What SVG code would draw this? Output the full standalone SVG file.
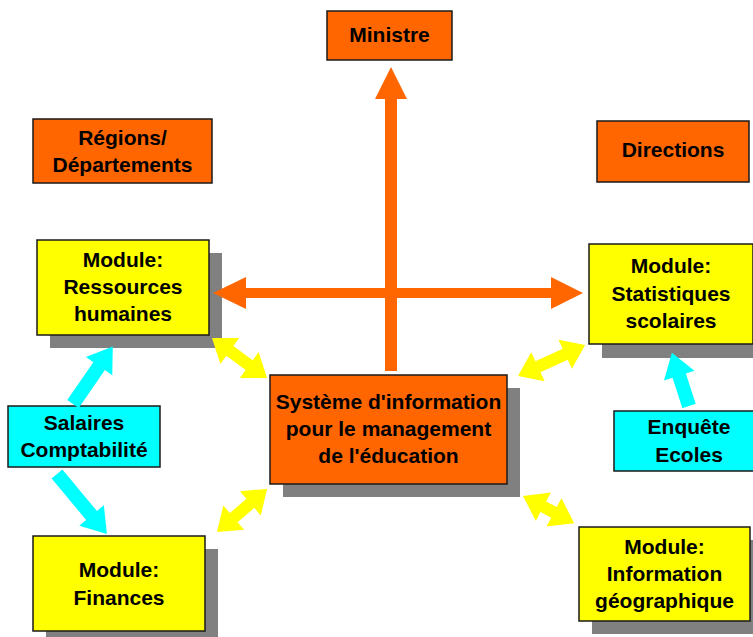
<svg xmlns="http://www.w3.org/2000/svg" width="753" height="637" viewBox="0 0 753 637">
<style>
.box{stroke:#1a1a1a;stroke-width:1.5}
.or{fill:#FF6600}
.ye{fill:#FFFF00}
.cy{fill:#00FFFF}
.sh{fill:#808080}
text{font-family:"Liberation Sans",Arial,sans-serif;font-weight:bold;font-size:21px;fill:#000;text-anchor:middle}
.oa{fill:#FF6600}
.ya{fill:#FFFF00}
.ca{fill:#00FFFF}
</style>
<rect width="753" height="637" fill="#fff"/>
<g id="ministre">
<rect class="box or" x="327" y="11" width="125" height="49"/>
<text x="389.5" y="42">Ministre</text>
</g>
<g id="regions">
<rect class="box or" x="33" y="119" width="179" height="64"/>
<text x="122.5" y="145">Régions/</text>
<text x="122.5" y="172">Départements</text>
</g>
<g id="directions">
<rect class="box or" x="597" y="121" width="152" height="61"/>
<text x="673" y="157">Directions</text>
</g>
<g id="ressources">
<rect class="sh" x="50" y="253" width="172" height="95"/>
<rect class="box ye" x="37" y="240" width="172" height="95"/>
<text x="123" y="267">Module:</text>
<text x="123" y="294">Ressources</text>
<text x="123" y="321">humaines</text>
</g>
<g id="statistiques">
<rect class="sh" x="602" y="257" width="164" height="101"/>
<rect class="box ye" x="589" y="244" width="164" height="100"/>
<text x="671" y="273">Module:</text>
<text x="671" y="301">Statistiques</text>
<text x="671" y="328">scolaires</text>
</g>
<g id="systeme">
<rect class="sh" x="283" y="388" width="237" height="109"/>
<rect class="box or" x="270" y="375" width="237" height="109"/>
<text x="388.5" y="409">Système d'information</text>
<text x="388.5" y="436">pour le management</text>
<text x="388.5" y="463">de l'éducation</text>
</g>
<g id="salaires">
<rect class="box cy" x="8" y="406" width="152" height="61"/>
<text x="84" y="430">Salaires</text>
<text x="84" y="457">Comptabilité</text>
</g>
<g id="enquete">
<rect class="box cy" x="614" y="411" width="150" height="60"/>
<text x="689" y="434">Enquête</text>
<text x="689" y="462">Ecoles</text>
</g>
<g id="finances">
<rect class="sh" x="46" y="549" width="172" height="95"/>
<rect class="box ye" x="33" y="536" width="172" height="95"/>
<text x="119" y="577">Module:</text>
<text x="119" y="605">Finances</text>
</g>
<g id="geographique">
<rect class="sh" x="592" y="540" width="171" height="94"/>
<rect class="box ye" x="579" y="527" width="171" height="94"/>
<text x="664.5" y="554">Module:</text>
<text x="664.5" y="581">Information</text>
<text x="664.5" y="608">géographique</text>
</g>
<g id="connectors">
<polygon class="oa" points="391,67 407,99 397,99 397,371 385,371 385,99 375,99"/>
<polygon class="oa" points="213,293 246,277 246,288 551,288 551,277 583,293 551,309 551,298 246,298 246,309"/>
<polygon class="ya" transform="translate(212,338) rotate(36)" points="0,0 22,-16 22,-6 46,-6 46,-16 68,0 46,16 46,6 22,6 22,16"/>
<polygon class="ya" transform="translate(518,376) rotate(-24.8)" points="0,0 22,-16 22,-6 52,-6 52,-16 74,0 52,16 52,6 22,6 22,16"/>
<polygon class="ya" transform="translate(217,532) rotate(-40.7)" points="0,0 22,-16 22,-6 44,-6 44,-16 66,0 44,16 44,6 22,6 22,16"/>
<polygon class="ya" transform="translate(523,496) rotate(27.9)" points="0,0 23,-16 23,-6 35,-6 35,-16 58,0 35,16 35,6 23,6 23,16"/>
<polygon class="ca" transform="translate(73,404) rotate(-55.4)" points="0,-7 46,-7 46,-16 70,0 46,16 46,7 0,7"/>
<polygon class="ca" transform="translate(57,474) rotate(50.2)" points="0,-7 54,-7 54,-16 78,0 54,16 54,7 0,7"/>
<polygon class="ca" transform="translate(689,406) rotate(-107.8)" points="0,-7 32,-7 32,-16 56,0 32,16 32,7 0,7"/>
</g>
</svg>
